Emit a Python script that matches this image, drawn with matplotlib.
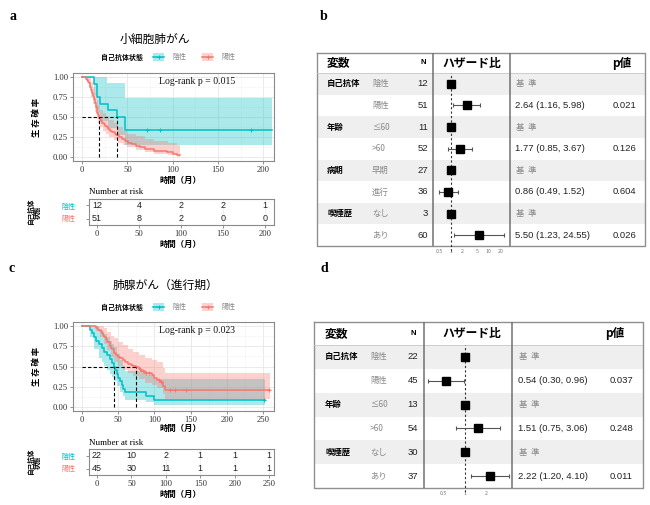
import numpy as np
import matplotlib
matplotlib.use('Agg')
import matplotlib.pyplot as plt
from matplotlib.patches import Rectangle
from matplotlib.ticker import MultipleLocator, FixedLocator, NullLocator

plt.rcParams['font.family'] = ['Noto Sans CJK JP', 'DejaVu Sans']
SERIF = ['Liberation Serif', 'DejaVu Serif']
SANS = ['Liberation Sans', 'Noto Sans CJK JP', 'DejaVu Sans']
TEAL = '#00BFC4'
RED = '#F8766D'

# ---------------- data: panel a (small cell lung cancer) ----------------
a_neg_t = [0, 13, 17, 20, 29, 39, 47, 210]
a_neg_s = [1.0, 0.917, 0.75, 0.667, 0.583, 0.5, 0.333, 0.333]
a_neg_cens = [72, 86, 187]
a_neg_bt = [0, 13, 17, 20, 28, 29, 39, 47, 210]
a_neg_blo = [1.0, 0.77, 0.55, 0.45, 0.45, 0.36, 0.28, 0.15, 0.15]
a_neg_bhi = [1.0, 1.0, 1.0, 1.0, 0.93, 0.93, 0.93, 0.74, 0.74]

a_pos_t = [0, 4, 6, 7, 8, 9, 10, 11, 12, 13, 14, 15, 16, 17, 18, 19, 20, 21, 22, 24,
           25, 27, 29, 31, 33, 36, 38, 41, 44, 47, 51, 55, 60, 64, 70, 79, 94, 100, 105, 108]
a_pos_s = [1.0, 0.98, 0.96, 0.94, 0.92, 0.88, 0.84, 0.80, 0.76, 0.72, 0.67, 0.63, 0.59, 0.55,
           0.53, 0.49, 0.47, 0.45, 0.43, 0.41, 0.39, 0.37, 0.35, 0.33, 0.31, 0.29, 0.27, 0.25,
           0.22, 0.20, 0.18, 0.16, 0.14, 0.12, 0.10, 0.08, 0.06, 0.04, 0.02, 0.02]
a_pos_cens = []
a_pos_bt = [0, 5, 8, 10, 12, 14, 16, 18, 20, 23, 26, 30, 35, 40, 45, 50, 60, 70, 80, 95, 105, 108]
a_pos_bhi = [1, 1, 1, .94, .87, .79, .71, .65, .59, .55, .51, .46, .42, .37, .33, .29, .26, .23,
             .20, .18, .15, .15]
a_pos_blo = [1, .94, .86, .75, .66, .56, .48, .42, .37, .33, .29, .25, .21, .18, .15, .12, .09,
             .06, .04, .02, .005, .005]
a_medians = [19, 39]
a_risk_t = [0, 50, 100, 150, 200]
a_risk_neg = [12, 4, 2, 2, 1]
a_risk_pos = [51, 8, 2, 0, 0]

# ---------------- data: panel c (advanced lung adenocarcinoma) ----------------
c_neg_t = [0, 11, 14, 17, 20, 23, 27, 31, 35, 38, 41, 44, 46, 48, 50, 52, 55, 57, 60, 89, 100, 252]
c_neg_s = [1.0, 0.955, 0.909, 0.864, 0.818, 0.773, 0.727, 0.682, 0.636, 0.591, 0.545, 0.5,
           0.455, 0.409, 0.364, 0.318, 0.273, 0.227, 0.182, 0.136, 0.091, 0.091]
c_neg_cens = [251]
c_neg_bt = [0, 11, 17, 23, 27, 31, 35, 38, 41, 44, 48, 52, 57, 60, 89, 100, 252]
c_neg_bhi = [1, 1, 1, .96, .93, .90, .86, .82, .78, .74, .66, .58, .50, .44, .40, .34, .34]
c_neg_blo = [1, .87, .72, .60, .56, .51, .46, .41, .37, .32, .26, .19, .13, .09, .06, .02, .02]

c_pos_t = [0, 19, 22, 25, 27, 29, 31, 33, 35, 38, 40, 42, 44, 47, 50, 53, 56, 59, 63, 67,
           71, 75, 78, 82, 87, 96, 100, 104, 108, 112, 115, 259]
c_pos_s = [1.0, 0.978, 0.956, 0.933, 0.911, 0.889, 0.867, 0.844, 0.8, 0.756, 0.733, 0.711,
           0.667, 0.644, 0.622, 0.6, 0.578, 0.556, 0.533, 0.52, 0.511, 0.489, 0.467, 0.444,
           0.42, 0.39, 0.36, 0.33, 0.31, 0.26, 0.21, 0.21]
c_pos_cens = [80, 84, 88, 92, 106, 109, 121, 128, 144, 258]
c_pos_bt = [0, 19, 25, 31, 35, 40, 44, 50, 56, 63, 71, 78, 87, 96, 104, 112, 115, 259]
c_pos_bhi = [1, 1, 1, .98, .93, .88, .85, .80, .76, .72, .68, .64, .61, .58, .55, .48, .42, .42]
c_pos_blo = [1, .94, .86, .78, .70, .62, .56, .50, .46, .42, .38, .34, .30, .27, .24, .16, .10, .10]
c_medians = [44, 75]
c_risk_t = [0, 50, 100, 150, 200, 250]
c_risk_neg = [22, 10, 2, 1, 1, 1]
c_risk_pos = [45, 30, 11, 1, 1, 1]

# ---------------- data: forest tables ----------------
b_var = ['自己抗体', '', '年齢', '', '病期', '', '喫煙歴', '']
b_lvl = ['陰性', '陽性', '≤60', '>60', '早期', '進行', 'なし', 'あり']
b_n = [12, 51, 11, 52, 27, 36, 3, 60]
b_hr = [1, 2.64, 1, 1.77, 1, 0.86, 1, 5.50]
b_lo = [np.nan, 1.16, np.nan, 0.85, np.nan, 0.49, np.nan, 1.23]
b_hi = [np.nan, 5.98, np.nan, 3.67, np.nan, 1.52, np.nan, 24.55]
b_p = ['', '0.021', '', '0.126', '', '0.604', '', '0.026']
b_ticks = [0.5, 1, 2, 5, 10, 20]

d_var = ['自己抗体', '', '年齢', '', '喫煙歴', '']
d_lvl = ['陰性', '陽性', '≤60', '>60', 'なし', 'あり']
d_n = [22, 45, 13, 54, 30, 37]
d_hr = [1, 0.54, 1, 1.51, 1, 2.22]
d_lo = [np.nan, 0.30, np.nan, 0.75, np.nan, 1.20]
d_hi = [np.nan, 0.96, np.nan, 3.06, np.nan, 4.10]
d_p = ['', '0.037', '', '0.248', '', '0.011']
d_ticks = [0.5, 1, 2]

W, H = 650, 505
fig = plt.figure(figsize=(6.5, 5.05), dpi=100)


def pax(l, t, r, b, **kw):
    return fig.add_axes([l / W, 1 - b / H, (r - l) / W, (b - t) / H], **kw)


def style_bw(ax):
    for sp in ax.spines.values():
        sp.set_color('#8a8a8a')
        sp.set_linewidth(0.8)
    ax.tick_params(length=2, width=0.5, color='#666666', labelsize=6.2,
                   labelcolor='#333333', pad=1.5)
    ax.grid(which='major', color='#e6e6e6', lw=0.6)
    ax.grid(which='minor', color='#f3f3f3', lw=0.4)
    ax.set_axisbelow(True)
    for lab in ax.get_xticklabels() + ax.get_yticklabels():
        lab.set_family(SERIF)


def surv_at(t, s, x):
    idx = np.searchsorted(np.asarray(t), np.asarray(x), side='right') - 1
    return np.asarray(s)[idx]


def draw_km(ax, groups, xlim, xmaj, xmin, medians, lr_x, lr_txt):
    ax.set_xlim(*xlim)
    ax.set_ylim(-0.05, 1.05)
    for g in groups:
        ax.fill_between(g[3], g[4], g[5], step='post', color=g[6], alpha=0.33, lw=0)
    for g in groups:
        ax.step(g[0], g[1], where='post', color=g[6], lw=1.1)
        if len(g[2]):
            ax.plot(g[2], surv_at(g[0], g[1], g[2]), '+', color=g[6], ms=3.5, mew=0.7)
    ax.plot([0, max(medians)], [0.5, 0.5], color='black', lw=0.8, ls=(0, (3, 2)))
    for m in medians:
        ax.plot([m, m], [0, 0.5], color='black', lw=0.8, ls=(0, (3, 2)))
    ax.xaxis.set_major_locator(MultipleLocator(xmaj))
    ax.xaxis.set_minor_locator(MultipleLocator(xmin))
    ax.yaxis.set_major_locator(FixedLocator([0, 0.25, 0.5, 0.75, 1.0]))
    ax.yaxis.set_minor_locator(FixedLocator([0.125, 0.375, 0.625, 0.875]))
    ax.set_yticklabels(['0.00', '0.25', '0.50', '0.75', '1.00'])
    ax.tick_params(which='minor', length=0)
    style_bw(ax)
    ax.text(lr_x, 0.94, lr_txt, family=SERIF, fontsize=7, ha='center', va='center',
            color='#111111')


def draw_risk(ax, xlim, ticks, neg, pos):
    ax.set_xlim(*xlim)
    ax.set_ylim(-0.5, 1.5)
    for y, vals in ((1, neg), (0, pos)):
        for t, v in zip(ticks, vals):
            ax.text(t, y, str(v), ha='center', va='center', fontsize=6.5, family=SANS,
                    color='#222222')
    ax.xaxis.set_major_locator(FixedLocator(ticks))
    ax.xaxis.set_minor_locator(NullLocator())
    ax.set_yticks([1, 0])
    ax.set_yticklabels(['陰性', '陽性'])
    style_bw(ax)
    ax.tick_params(axis='y', pad=8)
    ax.grid(False)
    ax.grid(axis='x', which='major', color='#ececec', lw=0.6)
    for lab, c in zip(ax.get_yticklabels(), [TEAL, RED]):
        lab.set_color(c)
        lab.set_family(['Noto Sans CJK JP'])
        lab.set_fontsize(5)


# ---- panel a ----
axa = pax(73, 73, 274, 161)
draw_km(axa,
        [(a_neg_t, a_neg_s, a_neg_cens, a_neg_bt, a_neg_blo, a_neg_bhi, TEAL),
         (a_pos_t, a_pos_s, a_pos_cens, a_pos_bt, a_pos_blo, a_pos_bhi, RED)],
        (-10, 212), 50, 25, a_medians, 127, 'Log-rank p = 0.015')
axar = pax(89, 199, 274, 225)
draw_risk(axar, (-9.5, 210.7), a_risk_t, a_risk_neg, a_risk_pos)

# ---- panel c ----
axc = pax(73, 322, 274, 411)
draw_km(axc,
        [(c_neg_t, c_neg_s, c_neg_cens, c_neg_bt, c_neg_blo, c_neg_bhi, TEAL),
         (c_pos_t, c_pos_s, c_pos_cens, c_pos_bt, c_pos_blo, c_pos_bhi, RED)],
        (-12.4, 265), 50, 25, c_medians, 159, 'Log-rank p = 0.023')
axcr = pax(89, 449, 274, 475)
draw_risk(axcr, (-11.6, 257), c_risk_t, c_risk_neg, c_risk_pos)


# ---- forest tables ----
def draw_forest(l, t, r, b, hb, v1, v2, var, lvl, ns, hr, lo, hi, pv, xlim_f, fticks, cols, hcols,
                fsz):
    tab = pax(l, t, r, b)
    tab.set_xlim(l, r)
    tab.set_ylim(b, t)
    tab.axis('off')
    n = len(var)
    rh = (b - hb) / n
    for i in range(n):
        if i % 2 == 0:
            tab.add_patch(Rectangle((l, hb + i * rh), r - l, rh, facecolor='#efefef', lw=0))
    tab.plot([l, r, r, l, l], [t, t, b, b, t], color='#8f8f8f', lw=1.0, clip_on=False)
    tab.plot([l, r], [hb, hb], color='#c8c8c8', lw=0.6)
    for vx in (v1, v2):
        tab.plot([vx, vx], [t, b], color='#707070', lw=1.1)
    xv, xl, xn, xh, xp = cols
    hv, hn, hh, hp = hcols
    yh = (t + hb) / 2
    tab.text(hv, yh, '変数', fontsize=8.5, weight='bold', va='center', ha='left')
    tab.text(hn, yh, 'N', fontsize=5.5, weight='bold', va='center', ha='center', family=SANS)
    tab.text(hh, yh, 'ハザード比', fontsize=8.5, weight='bold', va='center', ha='center')
    tab.text(hp, yh, 'p値', fontsize=8.5, weight='bold', va='center', ha='center')
    for i in range(n):
        y = hb + (i + 0.5) * rh
        if var[i]:
            tab.text(xv, y, var[i], fontsize=fsz, weight='bold', va='center', ha='left')
        tab.text(xl, y, lvl[i], fontsize=fsz, color='#8a8a8a', va='center', ha='left',
                 family=['Noto Sans CJK JP', 'DejaVu Sans'])
        tab.text(xn, y, str(ns[i]), fontsize=6.8, va='center', ha='right', family=SANS,
                 color='#222222')
        if np.isnan(lo[i]):
            tab.text(xh + 1, y, '基  準', fontsize=fsz, color='#8a8a8a', va='center', ha='left')
        else:
            tab.text(xh, y, f'{hr[i]:.2f} ({lo[i]:.2f}, {hi[i]:.2f})', fontsize=6.8,
                     va='center', ha='left', family=SANS, color='#222222')
            tab.text(xp, y, pv[i], fontsize=6.8, va='center', ha='right', family=SANS,
                     color='#222222')
    fa = pax(v1, hb, v2, b)
    fa.patch.set_alpha(0)
    fa.set_xscale('log')
    fa.set_xlim(*xlim_f)
    fa.set_ylim(n - 0.5, -0.5)
    for sp in fa.spines.values():
        sp.set_visible(False)
    fa.set_yticks([])
    fa.xaxis.set_major_locator(FixedLocator(fticks))
    fa.xaxis.set_minor_locator(NullLocator())
    fa.set_xticklabels([f'{v:g}' for v in fticks])
    fa.tick_params(axis='x', length=0, labelsize=3.8, labelcolor='#777777', pad=2)
    fa.axvline(1, color='#333333', lw=0.8, ls=(0, (2, 2)), ymin=-0.03, ymax=1, clip_on=False)
    rows = np.arange(n)
    lo_a, hi_a, hr_a = np.array(lo), np.array(hi), np.array(hr)
    m = ~np.isnan(lo_a)
    fa.errorbar(hr_a[m], rows[m], xerr=[hr_a[m] - lo_a[m], hi_a[m] - hr_a[m]], fmt='none',
                ecolor='#555555', elinewidth=0.8, capsize=1.5, capthick=0.8)
    fa.plot(hr_a, rows, 's', color='black', ms=5.2, zorder=5)


draw_forest(317, 53, 645, 246, 73, 433, 510, b_var, b_lvl, b_n, b_hr, b_lo, b_hi, b_p,
            (0.34, 36), b_ticks, (327, 372, 428, 515, 636), (327, 423, 472, 622), 6)
draw_forest(314, 322, 643, 488, 345, 424, 512, d_var, d_lvl, d_n, d_hr, d_lo, d_hi, d_p,
            (0.267, 4.55), d_ticks, (325, 370, 418, 518, 633), (325, 413, 472, 615), 6)

# ---- overlay: titles, legends, labels ----
ov = fig.add_axes([0, 0, 1, 1])
ov.set_xlim(0, W)
ov.set_ylim(H, 0)
ov.axis('off')
ov.patch.set_alpha(0)

for lab, x, y in (('a', 13, 17), ('b', 324, 16), ('c', 12, 268), ('d', 324, 268)):
    ov.text(x, y, lab, family=SERIF, weight='bold', fontsize=10, ha='center', va='center')

ov.text(155, 39, '小細胞肺がん', fontsize=8.5, ha='center', va='center')
ov.text(166, 285, '肺腺がん（進行期）', fontsize=8.5, ha='center', va='center')


def legend(y):
    ov.text(122, y, '自己抗体状態', fontsize=5, weight='bold', ha='center', va='center')
    for x0, c, lab in ((153, TEAL, '陰性'), (202, RED, '陽性')):
        ov.add_patch(Rectangle((x0, y - 4), 11, 8, facecolor=c, alpha=0.33, lw=0))
        ov.plot([x0, x0 + 11], [y, y], color=c, lw=1.1)
        ov.plot([x0 + 5.5], [y], '+', color=c, ms=3.5, mew=0.7)
        ov.text(x0 + 19, y, lab, fontsize=5, color='#888888', ha='left', va='center')


legend(57)
legend(307)

for yc in (117, 366):
    ov.text(37, yc, '生 存 確 率', fontsize=6, weight='bold', rotation=90, ha='center',
            va='center')
for yc in (212, 462):
    ov.text(34, yc, '自己抗体\n状態', fontsize=4.8, weight='bold', rotation=90, ha='center',
            va='center', linespacing=1.0)

for yx in (180, 428, 244, 494):
    ov.text(180, yx, '時間（月）', fontsize=6, weight='bold', ha='center', va='center')

ov.text(89, 192, 'Number at risk', family=SERIF, fontsize=6.5, ha='left', va='center')
ov.text(89, 443, 'Number at risk', family=SERIF, fontsize=6.5, ha='left', va='center')

fig.savefig('out.png', dpi=100)
